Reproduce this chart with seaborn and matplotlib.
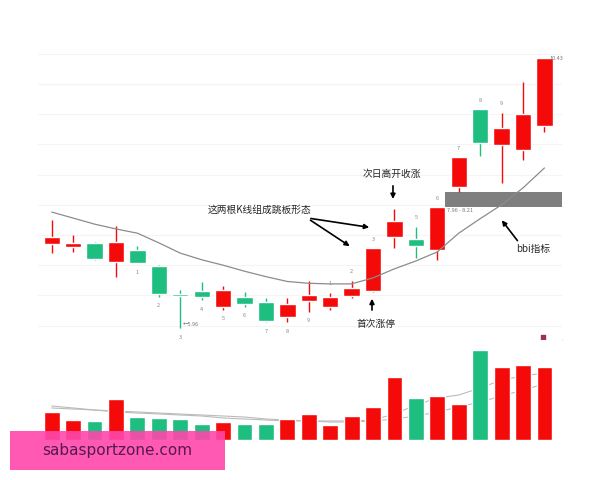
import numpy as np
import pandas as pd
import seaborn as sns
import matplotlib.pyplot as plt
from matplotlib.patches import Rectangle

# daily candles (price)
opens  = [7.35, 7.30, 7.36, 7.05, 7.25, 6.98, 6.52, 6.57, 6.30, 6.47, 6.39, 6.15,
          6.40, 6.31, 6.49, 6.58, 7.46, 7.44, 7.25, 8.30, 9.58, 8.99, 8.90, 9.31]
closes = [7.47, 7.36, 7.11, 7.38, 7.04, 6.52, 6.49, 6.48, 6.59, 6.35, 6.08, 6.35,
          6.51, 6.47, 6.63, 7.28, 7.73, 7.31, 7.96, 8.79, 9.02, 9.27, 9.50, 10.43]
highs  = [7.74, 7.50, 7.38, 7.65, 7.31, 7.01, 6.59, 6.72, 6.66, 6.55, 6.45, 6.45,
          6.73, 6.54, 6.74, 7.28, 7.93, 7.64, 7.96, 8.79, 9.58, 9.52, 10.04, 10.43]
lows   = [7.20, 7.22, 7.09, 6.81, 7.03, 6.48, 5.96, 6.42, 6.26, 6.31, 6.06, 6.06,
          6.23, 6.25, 6.45, 6.56, 7.29, 7.12, 7.09, 8.21, 8.81, 8.36, 8.74, 9.21]
# bbi indicator line
bbi = [7.88, 7.78, 7.68, 7.60, 7.53, 7.37, 7.20, 7.09, 7.00, 6.90, 6.81, 6.73,
       6.70, 6.69, 6.69, 6.79, 6.94, 7.07, 7.22, 7.53, 7.77, 8.00, 8.28, 8.61]
# volume (arbitrary units) and its two average lines
volume = [28, 20, 19, 41, 23, 22, 21, 16, 18, 16, 16, 21,
          26, 15, 24, 33, 63, 42, 44, 36, 90, 73, 75, 73]
vol_ma_a = [34, 32, 30, 28, 27, 26, 25, 24, 22, 21, 20, 19,
            19, 19, 19, 20, 26, 35, 42, 45, 52, 60, 64, 67]
vol_ma_b = [32, 31, 30, 29, 28, 27, 26, 25, 24, 23, 21, 20,
            19, 18, 18, 19, 21, 24, 28, 33, 38, 44, 50, 56]
# gap marked by the grey band
gap_low, gap_high = 7.96, 8.21
low_mark = 5.96
high_mark = 10.43

# little counting labels under / over candles
count_down = [(4, '1'), (5, '2'), (6, '3'), (7, '4'), (8, '5'), (9, '6'), (10, '7'), (11, '8'), (12, '9')]
count_up = [(13, '1'), (14, '2'), (15, '3'), (17, '5'), (18, '6'), (19, '7'), (20, '8'), (21, '9')]

RED = '#f50a0a'
GREEN = '#1ebd80'

sns.set_style('white')
plt.rcParams['font.family'] = ['Noto Sans CJK SC', 'DejaVu Sans']

df = pd.DataFrame({'day': np.arange(len(opens)), 'open': opens, 'close': closes,
                   'high': highs, 'low': lows, 'bbi': bbi, 'vol': volume,
                   'ma_a': vol_ma_a, 'ma_b': vol_ma_b})
df['dir'] = np.where(df['close'] >= df['open'], 'up', 'down')
df['col'] = df['dir'].map({'up': RED, 'down': GREEN})

fig = plt.figure(figsize=(6, 4.8), dpi=100)
ax = fig.add_axes([38/600, 140/480, 524/600, 305/480])
axv = fig.add_axes([38/600, 40/480, 524/600, 100/480])
xlim = (-0.64, 23.82)
w = 0.76

#****************** CANDLES ******************
ax.vlines(df['day'], df['low'], df['high'], colors=df['col'], lw=1, zorder=2)
body_lo = df[['open', 'close']].min(axis=1)
body_h = (df['close'] - df['open']).abs()
ax.bar(df['day'], body_h, bottom=body_lo, width=w, color=df['col'], zorder=3)
sns.lineplot(data=df, x='day', y='bbi', ax=ax, color='#8c8c8c', lw=0.9, zorder=4)

# gap band
gx0 = df['day'].iloc[18] + w/2
ax.fill_between([gx0, xlim[1]], gap_low, gap_high, color='#7f7f7f', lw=0, zorder=1)
ax.text(gx0 + 0.05, gap_low - 0.06, f'{gap_low:.2f} - {gap_high:.2f}', fontsize=4,
        color='#777777', va='center', ha='left')
ax.text(df['day'].iloc[6] + 0.1, low_mark + 0.05, f'\u2190{low_mark:.2f}', fontsize=4,
        color='#777777', va='center', ha='left')
ax.text(df['day'].iloc[23] + 0.25, high_mark, f'{high_mark:.2f}', fontsize=4,
        color='#777777', va='center', ha='left')

for i, t in count_down:
    ax.text(i, df['low'].iloc[i] - 0.15, t, fontsize=4, color='#888888', ha='center', va='center')
for i, t in count_up:
    ax.text(i, df['high'].iloc[i] + 0.15, t, fontsize=4, color='#888888', ha='center', va='center')

# small marker in the corner
ax.scatter([22.94], [5.81], marker='s', s=8, color='#9a3060', zorder=5)

#****************** ANNOTATIONS ******************
arr = dict(arrowstyle='-|>', color='black', lw=1.2, mutation_scale=7)
ax.text(9.68, 7.914, '这两根K线组成跳板形态', fontsize=7, ha='center', va='center')
ax.annotate('', xy=(14.95, 7.62), xytext=(11.97, 7.78), arrowprops=arr)
ax.annotate('', xy=(14.02, 7.29), xytext=(11.97, 7.77), arrowprops=arr)
ax.text(15.89, 8.51, '次日高开收涨', fontsize=7, ha='center', va='center')
ax.annotate('', xy=(15.93, 8.05), xytext=(15.93, 8.36), arrowprops=arr)
ax.text(15.14, 6.03, '首次涨停', fontsize=7, ha='center', va='center')
ax.annotate('', xy=(14.95, 6.49), xytext=(14.95, 6.21), arrowprops=arr)
ax.text(22.47, 7.27, 'bbi指标', fontsize=7, ha='center', va='center')
ax.annotate('', xy=(20.93, 7.78), xytext=(21.82, 7.37), arrowprops=arr)

ax.set_xlim(xlim)
ax.set_ylim(5.761, 10.812)
ax.set_yticks(np.arange(6.0, 10.8, 0.5))
ax.grid(axis='y', color='#f4f4f4', lw=0.8)
ax.set_xticks([])
ax.tick_params(left=False, labelleft=False)
ax.set_xlabel('')
ax.set_ylabel('')
for s in ['top', 'left', 'right']:
    ax.spines[s].set_visible(False)
ax.spines['bottom'].set_color('#e2e2e2')
ax.spines['bottom'].set_linewidth(0.8)

#****************** VOLUME ******************
sns.barplot(data=df, x='day', y='vol', hue='dir', palette={'up': RED, 'down': GREEN},
            dodge=False, width=0.74, saturation=1, legend=False, ax=axv,
            native_scale=True, zorder=3)
sns.lineplot(data=df, x='day', y='ma_a', ax=axv, color='#bbbbbb', lw=0.8, zorder=2)
sns.lineplot(data=df, x='day', y='ma_b', ax=axv, color='#bbbbbb', lw=0.8, zorder=2)
axv.set_xlim(xlim)
axv.set_ylim(0, 100)
axv.set_xticks([])
axv.set_yticks([])
axv.set_xlabel('')
axv.set_ylabel('')
sns.despine(ax=axv, left=True, bottom=True)

# watermark box
fig.add_artist(Rectangle((10/600, 10/480), 215/600, 39/480, transform=fig.transFigure,
                         facecolor='#ff47ab', alpha=0.9, lw=0, zorder=10))
fig.text(42/600, 29/480, 'sabasportzone.com', fontsize=11, color='#55184f',
         va='center', ha='left', zorder=11, family=['DejaVu Sans'])

fig.savefig('out.png', dpi=100)
